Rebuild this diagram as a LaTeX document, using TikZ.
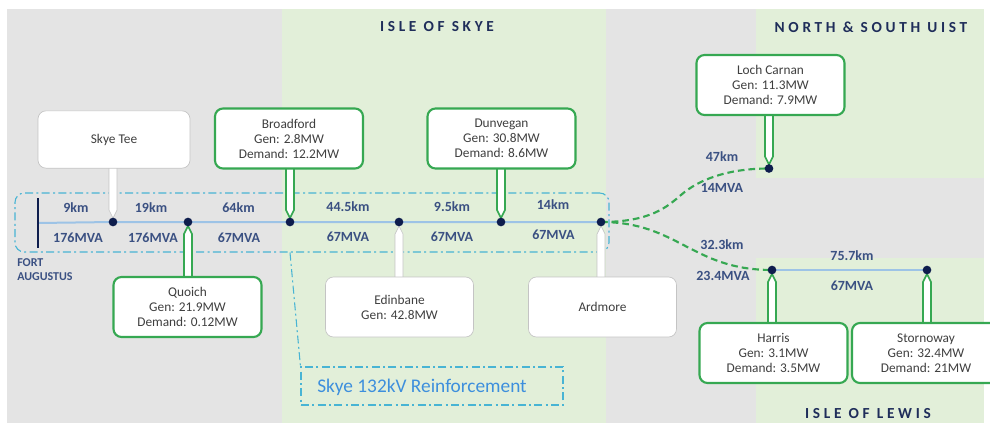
\documentclass[tikz,border=0pt]{standalone}
\usepackage{fontspec}
\setmainfont{Carlito}
\newfontfamily\titlefont[LetterSpace=24]{Carlito}
\usetikzlibrary{calc}
\pgfdeclarelayer{back}
\pgfdeclarelayer{tails}
\pgfsetlayers{back,tails,main}
\definecolor{bggrey}{HTML}{E4E4E4}
\definecolor{islegreen}{HTML}{E2EFD9}
\definecolor{boxgreen}{HTML}{36A852}
\definecolor{dotnavy}{HTML}{0E1D4D}
\definecolor{lblcol}{HTML}{3A5082}
\definecolor{titlecol}{HTML}{1F2D5A}
\definecolor{lineblue}{HTML}{9DC3E6}
\definecolor{cyanline}{HTML}{48B4D4}
\definecolor{reinfcol}{HTML}{3D8FDD}
\definecolor{greyborder}{HTML}{C4C4C4}
\definecolor{boxtext}{HTML}{3F3F3F}
\newcommand\taildown[3]{\filldraw[#1] let \p1=(#2), \p2=(#3.south) in
  (\x1-3pt,\y2+4pt) -- (\x1-3pt,\y1+9pt) -- (\x1,\y1+3pt) -- (\x1+3pt,\y1+9pt) -- (\x1+3pt,\y2+4pt);}
\newcommand\tailup[3]{\filldraw[#1] let \p1=(#2), \p2=(#3.north) in
  (\x1-3pt,\y2-4pt) -- (\x1-3pt,\y1-9pt) -- (\x1,\y1-3pt) -- (\x1+3pt,\y1-9pt) -- (\x1+3pt,\y2-4pt);}
\begin{document}
\begin{tikzpicture}[x=0.75pt,y=-0.75pt,
  gbox/.style={draw=boxgreen, line width=1.6pt, fill=white, rounded corners=6pt,
    minimum width=111pt, minimum height=45pt, inner sep=2pt, align=center,
    text=boxtext, font=\fontsize{10}{11.25}\selectfont},
  wbox/.style={gbox, draw=greyborder, line width=0.5pt},
  gtail/.style={draw=boxgreen, line width=1.2pt, fill=white},
  wtail/.style={draw=greyborder, line width=0.5pt, fill=white},
  busdot/.style={circle, fill=dotnavy, inner sep=0pt, minimum size=6.5pt},
  lenlabel/.style={text=lblcol, font=\bfseries\fontsize{10.5}{12}\selectfont, inner sep=1pt},
  isletitle/.style={text=titlecol, font=\titlefont\bfseries\fontsize{11.5}{13}\selectfont},
  mainline/.style={draw=lineblue, line width=1.5pt},
  greendash/.style={draw=boxgreen, line width=1.6pt, dash pattern=on 5pt off 3pt},
  dashdotline/.style={draw=cyanline, line width=0.8pt, dash pattern=on 6pt off 2.5pt on 1.5pt off 2.5pt}
]
\path[use as bounding box] (0,0) rectangle (990,425);
\clip (0,0) rectangle (990,425);

% regions
\begin{pgfonlayer}{back}
\fill[white] (0,0) rectangle (990,425);
\fill[bggrey] (7,9) rectangle (984,423);
\fill[islegreen] (282,9) rectangle (606,423);
\fill[islegreen] (756,9) rectangle (984,178);
\fill[islegreen] (756,258) rectangle (984,423);
\end{pgfonlayer}

\node[isletitle] (tskye) at (437,27) {ISLE OF SKYE};
\node[isletitle] (tuist) at (871,27) {NORTH \& SOUTH UIST};
\node[isletitle] (tlewis) at (868,414) {ISLE OF LEWIS};

% boxes
\node[wbox, minimum width=114pt, minimum height=43pt] (skyetee) at (114,139.5) {Skye Tee};
\node[gbox] (broadford) at (289,138.5) {Broadford\\Gen: 2.8MW\\Demand: 12.2MW};
\node[gbox] (dunvegan) at (501.5,138.5) {Dunvegan\\Gen: 30.8MW\\Demand: 8.6MW};
\node[gbox] (quoich) at (187.5,307) {Quoich\\Gen: 21.9MW\\Demand: 0.12MW};
\node[wbox] (edinbane) at (399.5,307) {Edinbane\\Gen: 42.8MW};
\node[wbox] (ardmore) at (602.5,307) {Ardmore};
\node[gbox] (lochcarnan) at (770.5,85) {Loch Carnan\\Gen: 11.3MW\\Demand: 7.9MW};
\node[gbox] (harris) at (773.5,353) {Harris\\Gen: 3.1MW\\Demand: 3.5MW};
\node[gbox] (stornoway) at (926,353) {Stornoway\\Gen: 32.4MW\\Demand: 21MW};

% bus dots
\node[busdot] (dskyetee) at (113,222) {};
\node[busdot] (dquoich) at (188,222) {};
\node[busdot] (dbroadford) at (290,222) {};
\node[busdot] (dedinbane) at (399,222) {};
\node[busdot] (ddunvegan) at (501,222) {};
\node[busdot] (dardmore) at (601,222) {};
\node[busdot] (dloch) at (769,168.5) {};
\node[busdot] (dharris) at (772,270) {};
\node[busdot] (dstorn) at (927,270) {};

% Fort Augustus bar
\node[fill=dotnavy, inner sep=0pt, minimum width=2.2pt, minimum height=37.5pt] (fa) at (38,223) {};
\node[anchor=north west, align=left, text=lblcol, inner sep=0pt,
  font=\bfseries\fontsize{9}{10.5}\selectfont] (fatext) at (17,258) {FORT\\AUGUSTUS};

% lines and dash boxes
\begin{pgfonlayer}{back}
\node[dashdotline, rounded corners=7pt, minimum width=445.5pt, minimum height=44.25pt] (skyebox) at (312,222.5) {};
\node[dashdotline, minimum width=196.5pt, minimum height=28.5pt] (reinf) at (432,386) {};
\coordinate (drop) at (skyebox.south -| dbroadford);
\draw[dashdotline] (drop) -- (reinf.north west);
\draw[mainline] (fa.center) -- (dskyetee.center) -- (dquoich.center) -- (dbroadford.center)
  -- (dedinbane.center) -- (ddunvegan.center) -- (dardmore.center);
\draw[mainline] (dharris.center) -- (dstorn.center);
\coordinate (uistmid) at (681,195);
\draw[greendash] (dardmore.center) .. controls (650,222) and (667,207) .. (uistmid)
  .. controls (697,181) and (725,168.5) .. (dloch.center);
\draw[greendash] (dardmore.center) .. controls (678,222) and (692,270) .. (dharris.center);
\end{pgfonlayer}
\node[anchor=west, text=reinfcol, inner sep=0pt, font=\fontsize{14.5}{16}\selectfont] (reinftext) at (317,387) {Skye 132kV Reinforcement};

% tails
\begin{pgfonlayer}{tails}
\taildown{wtail}{dskyetee}{skyetee}
\taildown{gtail}{dbroadford}{broadford}
\taildown{gtail}{ddunvegan}{dunvegan}
\taildown{gtail}{dloch}{lochcarnan}
\tailup{gtail}{dquoich}{quoich}
\tailup{wtail}{dedinbane}{edinbane}
\tailup{wtail}{dardmore}{ardmore}
\tailup{gtail}{dharris}{harris}
\tailup{gtail}{dstorn}{stornoway}
\end{pgfonlayer}

% line labels
\node[lenlabel] (l1a) at (76,208) {9km};
\node[lenlabel] (l1b) at (78,238) {176MVA};
\node[lenlabel] (l2a) at (151,208) {19km};
\node[lenlabel] (l2b) at (153,238) {176MVA};
\node[lenlabel] (l3a) at (238.5,208) {64km};
\node[lenlabel] (l3b) at (239,238) {67MVA};
\node[lenlabel] (l4a) at (348,207) {44.5km};
\node[lenlabel] (l4b) at (348,237) {67MVA};
\node[lenlabel] (l5a) at (452,207) {9.5km};
\node[lenlabel] (l5b) at (452,237) {67MVA};
\node[lenlabel] (l6a) at (553,205) {14km};
\node[lenlabel] (l6b) at (553.5,235) {67MVA};
\node[lenlabel] (l7a) at (722,157) {47km};
\node[lenlabel] (l7b) at (722,188) {14MVA};
\node[lenlabel] (l8a) at (722,245) {32.3km};
\node[lenlabel] (l8b) at (723,276) {23.4MVA};
\node[lenlabel] (l9a) at (852,256) {75.7km};
\node[lenlabel] (l9b) at (852,286) {67MVA};
\end{tikzpicture}
\end{document}
